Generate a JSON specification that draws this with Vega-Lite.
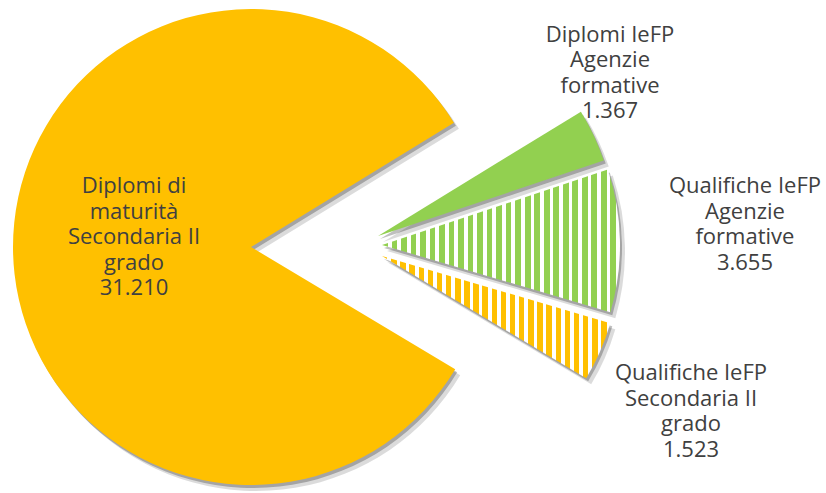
{
  "$schema": "https://vega.github.io/schema/vega-lite/v6.json",
  "width": 826,
  "height": 493,
  "autosize": {"type": "fit", "contains": "padding"},
  "padding": 0,
  "background": "white",
  "config": {
    "view": {"stroke": null},
    "locale": {"number": {"decimal": ",", "thousands": ".", "grouping": [3], "currency": ["€", ""]}},
    "style": {
      "lbl": {"font": "Open Sans", "fontSize": 22, "lineHeight": 25.5, "lineBreak": "\n", "align": "center", "baseline": "middle"}
    }
  },
  "data": {
    "values": [
      {"cat": "Diplomi IeFP\nAgenzie\nformative", "value": 1367},
      {"cat": "Qualifiche IeFP\nAgenzie\nformative", "value": 3655},
      {"cat": "Qualifiche IeFP\nSecondaria II\ngrado", "value": 1523},
      {"cat": "Diplomi di\nmaturità\nSecondaria II\ngrado", "value": 31210}
    ]
  },
  "transform": [
    {"window": [{"op": "row_number", "as": "idx"}]},
    {"calculate": "datum.cat + '\\n' + format(datum.value, ',')", "as": "label"}
  ],
  "encoding": {
    "theta": {"field": "value", "type": "quantitative", "stack": true, "scale": {"range": [1.021, 7.3042]}},
    "order": {"field": "idx", "type": "quantitative"}
  },
  "layer": [
    {"mark": {"type": "arc", "fill": "#000000", "stroke": null, "outerRadius": 238, "xOffset": -33, "yOffset": -0.5}, "encoding": {"opacity": {"condition": {"test": "datum.idx === 1", "value": 0.25}, "value": 0}}},
    {"mark": {"type": "arc", "fill": "#000000", "stroke": null, "outerRadius": 238, "xOffset": -30, "yOffset": 2.5}, "encoding": {"opacity": {"condition": {"test": "datum.idx === 1", "value": 0.14}, "value": 0}}},
    {"mark": {"type": "arc", "fill": "#000000", "stroke": null, "outerRadius": 238, "xOffset": -29, "yOffset": 8.5}, "encoding": {"opacity": {"condition": {"test": "datum.idx === 2", "value": 0.25}, "value": 0}}},
    {"mark": {"type": "arc", "fill": "#000000", "stroke": null, "outerRadius": 238, "xOffset": -26, "yOffset": 11.5}, "encoding": {"opacity": {"condition": {"test": "datum.idx === 2", "value": 0.14}, "value": 0}}},
    {"mark": {"type": "arc", "fill": "#000000", "stroke": null, "outerRadius": 238, "xOffset": -29, "yOffset": 19.5}, "encoding": {"opacity": {"condition": {"test": "datum.idx === 3", "value": 0.25}, "value": 0}}},
    {"mark": {"type": "arc", "fill": "#000000", "stroke": null, "outerRadius": 238, "xOffset": -26, "yOffset": 22.5}, "encoding": {"opacity": {"condition": {"test": "datum.idx === 3", "value": 0.14}, "value": 0}}},
    {"mark": {"type": "arc", "fill": "#000000", "stroke": null, "outerRadius": 238, "xOffset": -160, "yOffset": 10.5}, "encoding": {"opacity": {"condition": {"test": "datum.idx === 4", "value": 0.25}, "value": 0}}},
    {"mark": {"type": "arc", "fill": "#000000", "stroke": null, "outerRadius": 238, "xOffset": -157, "yOffset": 13.5}, "encoding": {"opacity": {"condition": {"test": "datum.idx === 4", "value": 0.14}, "value": 0}}},
    {"mark": {"type": "arc", "fill": "#92D050", "stroke": null, "outerRadius": 238, "xOffset": -35, "yOffset": -3.5}, "encoding": {"opacity": {"condition": {"test": "datum.idx === 1", "value": 1}, "value": 0}}},
    {"mark": {"type": "arc", "stroke": null, "outerRadius": 238, "xOffset": -31, "yOffset": 5.5,
      "fill": {"gradient": "linear", "x1": 0, "y1": 0, "x2": 1, "y2": 0, "stops": [
        {"offset": 0, "color": "#92D050"}, {"offset": 0.024, "color": "#92D050"}, {"offset": 0.024, "color": "#FFFFFF"}, {"offset": 0.04, "color": "#FFFFFF"},
        {"offset": 0.04, "color": "#92D050"}, {"offset": 0.064, "color": "#92D050"}, {"offset": 0.064, "color": "#FFFFFF"}, {"offset": 0.08, "color": "#FFFFFF"},
        {"offset": 0.08, "color": "#92D050"}, {"offset": 0.104, "color": "#92D050"}, {"offset": 0.104, "color": "#FFFFFF"}, {"offset": 0.12, "color": "#FFFFFF"},
        {"offset": 0.12, "color": "#92D050"}, {"offset": 0.144, "color": "#92D050"}, {"offset": 0.144, "color": "#FFFFFF"}, {"offset": 0.16, "color": "#FFFFFF"},
        {"offset": 0.16, "color": "#92D050"}, {"offset": 0.184, "color": "#92D050"}, {"offset": 0.184, "color": "#FFFFFF"}, {"offset": 0.2, "color": "#FFFFFF"},
        {"offset": 0.2, "color": "#92D050"}, {"offset": 0.224, "color": "#92D050"}, {"offset": 0.224, "color": "#FFFFFF"}, {"offset": 0.24, "color": "#FFFFFF"},
        {"offset": 0.24, "color": "#92D050"}, {"offset": 0.264, "color": "#92D050"}, {"offset": 0.264, "color": "#FFFFFF"}, {"offset": 0.28, "color": "#FFFFFF"},
        {"offset": 0.28, "color": "#92D050"}, {"offset": 0.304, "color": "#92D050"}, {"offset": 0.304, "color": "#FFFFFF"}, {"offset": 0.32, "color": "#FFFFFF"},
        {"offset": 0.32, "color": "#92D050"}, {"offset": 0.344, "color": "#92D050"}, {"offset": 0.344, "color": "#FFFFFF"}, {"offset": 0.36, "color": "#FFFFFF"},
        {"offset": 0.36, "color": "#92D050"}, {"offset": 0.384, "color": "#92D050"}, {"offset": 0.384, "color": "#FFFFFF"}, {"offset": 0.4, "color": "#FFFFFF"},
        {"offset": 0.4, "color": "#92D050"}, {"offset": 0.424, "color": "#92D050"}, {"offset": 0.424, "color": "#FFFFFF"}, {"offset": 0.44, "color": "#FFFFFF"},
        {"offset": 0.44, "color": "#92D050"}, {"offset": 0.464, "color": "#92D050"}, {"offset": 0.464, "color": "#FFFFFF"}, {"offset": 0.48, "color": "#FFFFFF"},
        {"offset": 0.48, "color": "#92D050"}, {"offset": 0.504, "color": "#92D050"}, {"offset": 0.504, "color": "#FFFFFF"}, {"offset": 0.52, "color": "#FFFFFF"},
        {"offset": 0.52, "color": "#92D050"}, {"offset": 0.544, "color": "#92D050"}, {"offset": 0.544, "color": "#FFFFFF"}, {"offset": 0.56, "color": "#FFFFFF"},
        {"offset": 0.56, "color": "#92D050"}, {"offset": 0.584, "color": "#92D050"}, {"offset": 0.584, "color": "#FFFFFF"}, {"offset": 0.6, "color": "#FFFFFF"},
        {"offset": 0.6, "color": "#92D050"}, {"offset": 0.624, "color": "#92D050"}, {"offset": 0.624, "color": "#FFFFFF"}, {"offset": 0.64, "color": "#FFFFFF"},
        {"offset": 0.64, "color": "#92D050"}, {"offset": 0.664, "color": "#92D050"}, {"offset": 0.664, "color": "#FFFFFF"}, {"offset": 0.68, "color": "#FFFFFF"},
        {"offset": 0.68, "color": "#92D050"}, {"offset": 0.704, "color": "#92D050"}, {"offset": 0.704, "color": "#FFFFFF"}, {"offset": 0.72, "color": "#FFFFFF"},
        {"offset": 0.72, "color": "#92D050"}, {"offset": 0.744, "color": "#92D050"}, {"offset": 0.744, "color": "#FFFFFF"}, {"offset": 0.76, "color": "#FFFFFF"},
        {"offset": 0.76, "color": "#92D050"}, {"offset": 0.784, "color": "#92D050"}, {"offset": 0.784, "color": "#FFFFFF"}, {"offset": 0.8, "color": "#FFFFFF"},
        {"offset": 0.8, "color": "#92D050"}, {"offset": 0.824, "color": "#92D050"}, {"offset": 0.824, "color": "#FFFFFF"}, {"offset": 0.84, "color": "#FFFFFF"},
        {"offset": 0.84, "color": "#92D050"}, {"offset": 0.864, "color": "#92D050"}, {"offset": 0.864, "color": "#FFFFFF"}, {"offset": 0.88, "color": "#FFFFFF"},
        {"offset": 0.88, "color": "#92D050"}, {"offset": 0.904, "color": "#92D050"}, {"offset": 0.904, "color": "#FFFFFF"}, {"offset": 0.92, "color": "#FFFFFF"},
        {"offset": 0.92, "color": "#92D050"}, {"offset": 0.944, "color": "#92D050"}, {"offset": 0.944, "color": "#FFFFFF"}, {"offset": 0.96, "color": "#FFFFFF"},
        {"offset": 0.96, "color": "#92D050"}, {"offset": 0.984, "color": "#92D050"}, {"offset": 0.984, "color": "#FFFFFF"}, {"offset": 1, "color": "#FFFFFF"}
      ]}}, "encoding": {"opacity": {"condition": {"test": "datum.idx === 2", "value": 1}, "value": 0}}},
    {"mark": {"type": "arc", "stroke": null, "outerRadius": 238, "xOffset": -31, "yOffset": 16.5,
      "fill": {"gradient": "linear", "x1": 0, "y1": 0, "x2": 1, "y2": 0, "stops": [
        {"offset": 0, "color": "#FFC000"}, {"offset": 0.024, "color": "#FFC000"}, {"offset": 0.024, "color": "#FFFFFF"}, {"offset": 0.04, "color": "#FFFFFF"},
        {"offset": 0.04, "color": "#FFC000"}, {"offset": 0.064, "color": "#FFC000"}, {"offset": 0.064, "color": "#FFFFFF"}, {"offset": 0.08, "color": "#FFFFFF"},
        {"offset": 0.08, "color": "#FFC000"}, {"offset": 0.104, "color": "#FFC000"}, {"offset": 0.104, "color": "#FFFFFF"}, {"offset": 0.12, "color": "#FFFFFF"},
        {"offset": 0.12, "color": "#FFC000"}, {"offset": 0.144, "color": "#FFC000"}, {"offset": 0.144, "color": "#FFFFFF"}, {"offset": 0.16, "color": "#FFFFFF"},
        {"offset": 0.16, "color": "#FFC000"}, {"offset": 0.184, "color": "#FFC000"}, {"offset": 0.184, "color": "#FFFFFF"}, {"offset": 0.2, "color": "#FFFFFF"},
        {"offset": 0.2, "color": "#FFC000"}, {"offset": 0.224, "color": "#FFC000"}, {"offset": 0.224, "color": "#FFFFFF"}, {"offset": 0.24, "color": "#FFFFFF"},
        {"offset": 0.24, "color": "#FFC000"}, {"offset": 0.264, "color": "#FFC000"}, {"offset": 0.264, "color": "#FFFFFF"}, {"offset": 0.28, "color": "#FFFFFF"},
        {"offset": 0.28, "color": "#FFC000"}, {"offset": 0.304, "color": "#FFC000"}, {"offset": 0.304, "color": "#FFFFFF"}, {"offset": 0.32, "color": "#FFFFFF"},
        {"offset": 0.32, "color": "#FFC000"}, {"offset": 0.344, "color": "#FFC000"}, {"offset": 0.344, "color": "#FFFFFF"}, {"offset": 0.36, "color": "#FFFFFF"},
        {"offset": 0.36, "color": "#FFC000"}, {"offset": 0.384, "color": "#FFC000"}, {"offset": 0.384, "color": "#FFFFFF"}, {"offset": 0.4, "color": "#FFFFFF"},
        {"offset": 0.4, "color": "#FFC000"}, {"offset": 0.424, "color": "#FFC000"}, {"offset": 0.424, "color": "#FFFFFF"}, {"offset": 0.44, "color": "#FFFFFF"},
        {"offset": 0.44, "color": "#FFC000"}, {"offset": 0.464, "color": "#FFC000"}, {"offset": 0.464, "color": "#FFFFFF"}, {"offset": 0.48, "color": "#FFFFFF"},
        {"offset": 0.48, "color": "#FFC000"}, {"offset": 0.504, "color": "#FFC000"}, {"offset": 0.504, "color": "#FFFFFF"}, {"offset": 0.52, "color": "#FFFFFF"},
        {"offset": 0.52, "color": "#FFC000"}, {"offset": 0.544, "color": "#FFC000"}, {"offset": 0.544, "color": "#FFFFFF"}, {"offset": 0.56, "color": "#FFFFFF"},
        {"offset": 0.56, "color": "#FFC000"}, {"offset": 0.584, "color": "#FFC000"}, {"offset": 0.584, "color": "#FFFFFF"}, {"offset": 0.6, "color": "#FFFFFF"},
        {"offset": 0.6, "color": "#FFC000"}, {"offset": 0.624, "color": "#FFC000"}, {"offset": 0.624, "color": "#FFFFFF"}, {"offset": 0.64, "color": "#FFFFFF"},
        {"offset": 0.64, "color": "#FFC000"}, {"offset": 0.664, "color": "#FFC000"}, {"offset": 0.664, "color": "#FFFFFF"}, {"offset": 0.68, "color": "#FFFFFF"},
        {"offset": 0.68, "color": "#FFC000"}, {"offset": 0.704, "color": "#FFC000"}, {"offset": 0.704, "color": "#FFFFFF"}, {"offset": 0.72, "color": "#FFFFFF"},
        {"offset": 0.72, "color": "#FFC000"}, {"offset": 0.744, "color": "#FFC000"}, {"offset": 0.744, "color": "#FFFFFF"}, {"offset": 0.76, "color": "#FFFFFF"},
        {"offset": 0.76, "color": "#FFC000"}, {"offset": 0.784, "color": "#FFC000"}, {"offset": 0.784, "color": "#FFFFFF"}, {"offset": 0.8, "color": "#FFFFFF"},
        {"offset": 0.8, "color": "#FFC000"}, {"offset": 0.824, "color": "#FFC000"}, {"offset": 0.824, "color": "#FFFFFF"}, {"offset": 0.84, "color": "#FFFFFF"},
        {"offset": 0.84, "color": "#FFC000"}, {"offset": 0.864, "color": "#FFC000"}, {"offset": 0.864, "color": "#FFFFFF"}, {"offset": 0.88, "color": "#FFFFFF"},
        {"offset": 0.88, "color": "#FFC000"}, {"offset": 0.904, "color": "#FFC000"}, {"offset": 0.904, "color": "#FFFFFF"}, {"offset": 0.92, "color": "#FFFFFF"},
        {"offset": 0.92, "color": "#FFC000"}, {"offset": 0.944, "color": "#FFC000"}, {"offset": 0.944, "color": "#FFFFFF"}, {"offset": 0.96, "color": "#FFFFFF"},
        {"offset": 0.96, "color": "#FFC000"}, {"offset": 0.984, "color": "#FFC000"}, {"offset": 0.984, "color": "#FFFFFF"}, {"offset": 1, "color": "#FFFFFF"}
      ]}}, "encoding": {"opacity": {"condition": {"test": "datum.idx === 3", "value": 1}, "value": 0}}},
    {"mark": {"type": "arc", "fill": "#FFC000", "stroke": null, "outerRadius": 238, "xOffset": -162, "yOffset": 7.5}, "encoding": {"opacity": {"condition": {"test": "datum.idx === 4", "value": 1}, "value": 0}}},
    {"mark": {"type": "text", "style": "lbl", "color": "#404040", "radius": 256, "xOffset": -35, "yOffset": -96.7}, "encoding": {"text": {"condition": {"test": "datum.idx === 1", "field": "label"}, "value": ""}}},
    {"mark": {"type": "text", "style": "lbl", "color": "#404040", "radius": 363, "xOffset": -31, "yOffset": -46.6}, "encoding": {"text": {"condition": {"test": "datum.idx === 2", "field": "label"}, "value": ""}}},
    {"mark": {"type": "text", "style": "lbl", "color": "#404040", "radius": 337, "xOffset": -30.7, "yOffset": -1.6}, "encoding": {"text": {"condition": {"test": "datum.idx === 3", "field": "label"}, "value": ""}}},
    {"mark": {"type": "text", "style": "lbl", "color": "#404040", "radius": 117, "xOffset": -162, "yOffset": -54}, "encoding": {"text": {"condition": {"test": "datum.idx === 4", "field": "label"}, "value": ""}}}
  ]
}
